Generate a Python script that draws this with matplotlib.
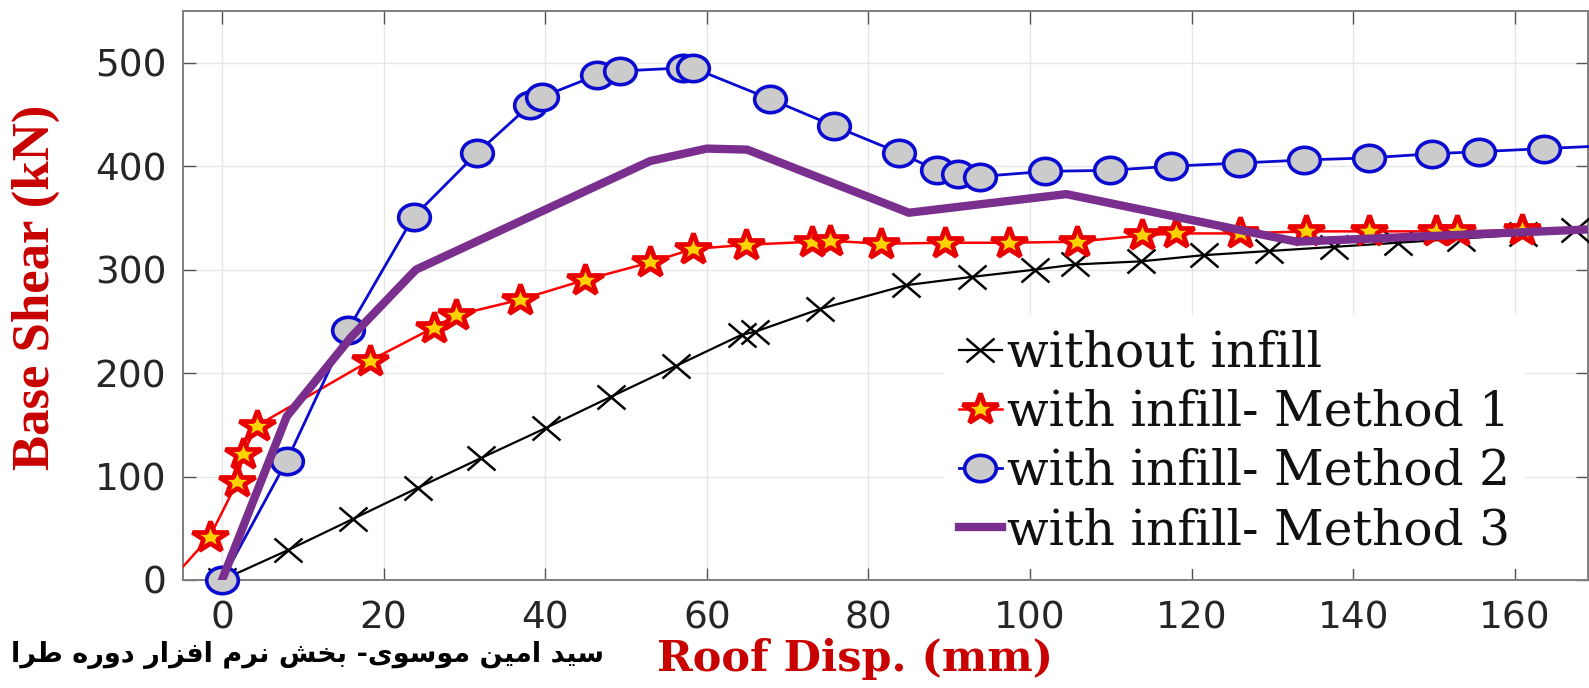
import matplotlib
matplotlib.use("Agg")
import matplotlib.pyplot as plt
from matplotlib.markers import MarkerStyle
from matplotlib.transforms import Affine2D

# ---------------- data ----------------
x_without = [0, 8.2, 16.2, 24.2, 32.1, 40.1, 48.1, 56.2, 64.3, 66, 74, 84.7, 92.8,
             100.6, 105.6, 113.7, 121.5, 129.6, 137.6, 145.5, 153.3, 161, 167.5]
y_without = [0, 29, 59, 89, 118, 147, 177, 207, 237, 240, 262, 285, 293,
             300, 305, 308, 314, 318, 322, 326, 330, 334, 338]

x_m1 = [-6.3, -1.5, 1.9, 2.6, 4.3, 18.3, 26.2, 29, 36.9, 44.9, 53, 58.3, 64.9, 73, 75.2,
        81.5, 89.5, 97.4, 105.8, 113.9, 118.1, 126, 134.1, 142, 150.2, 152.9, 160.9]
y_m1 = [0, 42, 95, 122, 149, 212, 244, 256, 271, 290, 307, 320, 324, 327, 328,
        325, 326, 326, 327, 333, 335, 335, 337, 337, 337, 337, 338]

x_m2 = [0, 8, 15.6, 23.7, 31.6, 38.1, 39.6, 46.4, 49.3, 57.1, 58.3, 67.8, 75.7, 83.8,
        88.5, 91.1, 93.8, 101.9, 109.9, 117.5, 125.9, 133.9, 141.9, 149.8, 155.6, 163.6, 172]
y_m2 = [0, 115, 242, 351, 413, 459, 467, 488, 492, 495, 495, 465, 439, 413,
        396, 392, 390, 395, 396, 400, 403, 406, 408, 412, 414, 417, 420]

x_m3 = [0, 8, 16, 24, 53, 60, 65, 85, 104.5, 133, 169.5]
y_m3 = [0, 158, 235, 300, 405, 417, 416, 355, 373, 327, 339]

labels = ["without infill", "with infill- Method 1", "with infill- Method 2", "with infill- Method 3"]
x_ticks = [0, 20, 40, 60, 80, 100, 120, 140, 160]
y_ticks = [0, 100, 200, 300, 400, 500]
x_label = "Roof Disp. (mm)"
y_label = "Base Shear (kN)"
footer = "سید امین موسوی- بخش نرم افزار دوره طرا"

# ---------------- simple Arabic/Persian shaping ----------------
FORMS = {  # isolated, final, initial, medial
    '\u0627': ('\uFE8D', '\uFE8E', None, None),
    '\u0628': ('\uFE8F', '\uFE90', '\uFE91', '\uFE92'),
    '\u062D': ('\uFEA1', '\uFEA2', '\uFEA3', '\uFEA4'),
    '\u062E': ('\uFEA5', '\uFEA6', '\uFEA7', '\uFEA8'),
    '\u062F': ('\uFEA9', '\uFEAA', None, None),
    '\u0631': ('\uFEAD', '\uFEAE', None, None),
    '\u0632': ('\uFEAF', '\uFEB0', None, None),
    '\u0633': ('\uFEB1', '\uFEB2', '\uFEB3', '\uFEB4'),
    '\u0634': ('\uFEB5', '\uFEB6', '\uFEB7', '\uFEB8'),
    '\u0637': ('\uFEC1', '\uFEC2', '\uFEC3', '\uFEC4'),
    '\u0641': ('\uFED1', '\uFED2', '\uFED3', '\uFED4'),
    '\u0645': ('\uFEE1', '\uFEE2', '\uFEE3', '\uFEE4'),
    '\u0646': ('\uFEE5', '\uFEE6', '\uFEE7', '\uFEE8'),
    '\u0647': ('\uFEE9', '\uFEEA', '\uFEEB', '\uFEEC'),
    '\u0648': ('\uFEED', '\uFEEE', None, None),
    '\u06CC': ('\uFBFC', '\uFBFD', '\uFBFE', '\uFBFF'),
    '\u064A': ('\uFEF1', '\uFEF2', '\uFEF3', '\uFEF4'),
}


def shape(text):
    out = []
    n = len(text)
    for i, ch in enumerate(text):
        if ch not in FORMS:
            out.append(ch)
            continue
        prev = text[i - 1] if i > 0 else ''
        nxt = text[i + 1] if i + 1 < n else ''
        joins_prev = prev in FORMS and FORMS[prev][2] is not None
        joins_next = nxt in FORMS and FORMS[ch][2] is not None
        iso, fin, ini, med = FORMS[ch]
        if joins_prev and joins_next:
            out.append(med)
        elif joins_prev:
            out.append(fin)
        elif joins_next:
            out.append(ini)
        else:
            out.append(iso)
    return ''.join(reversed(out))


# ---------------- figure ----------------
W, H = 1589, 688
fig = plt.figure(figsize=(W / 100, H / 100), dpi=100)
ax = fig.add_axes([183 / W, 1 - 580 / H, (1588 - 183) / W, (580 - 11) / H])

stretch = Affine2D().scale(1.2, 1.0)
m_x = MarkerStyle('x', transform=stretch)
m_star = MarkerStyle('*', transform=stretch)
m_circ = MarkerStyle('o', transform=stretch)

ax.plot(x_without, y_without, color='black', lw=1.6, marker=m_x, ms=17, mew=1.8,
        label=labels[0], zorder=3)
ax.plot(x_m1, y_m1, color='#ff0000', lw=1.8, marker=m_star, ms=23, mew=3.4,
        mec='#e80000', mfc='#ffd200', markevery=slice(1, None), label=labels[1], zorder=4)
ax.plot(x_m2, y_m2, color='#0a0ad0', lw=2.0, marker=m_circ, ms=19, mew=2.6,
        mec='#0a0ad0', mfc='#cbcbcb', label=labels[2], zorder=5, clip_on=False)
ax.plot(x_m3, y_m3, color='#7a2e8e', lw=6, solid_joinstyle='round', label=labels[3], zorder=6)

ax.set_xlim(-4.83, 169.06)
ax.set_ylim(0, 550)
ax.set_xticks(x_ticks)
ax.set_yticks(y_ticks)
ax.grid(True, color='#e6e6e6', lw=1.0)
ax.set_axisbelow(True)
ax.tick_params(direction='in', length=9, width=1, color='#555555',
               top=True, right=True, labelsize=27, labelcolor='#262626')
ax.tick_params(axis='x', pad=15)
ax.tick_params(axis='y', pad=12)
for s in ax.spines.values():
    s.set_color('#7f7f7f')
    s.set_linewidth(1.4)

fig.text(855 / W, 1 - 659 / H, x_label, ha='center', va='center', fontsize=31,
         family='DejaVu Serif', weight='bold', color='#c80000')
fig.text(36 / W, 1 - 287 / H, y_label, ha='center', va='center', rotation=90,
         fontsize=38, family='Liberation Serif', weight='bold', color='#c80000')

leg = ax.legend(loc='upper left', bbox_to_anchor=(944 / W, 1 - 315 / H),
                bbox_transform=fig.transFigure, prop=dict(family='DejaVu Serif', size=35),
                frameon=True, fancybox=False, framealpha=1, facecolor='white', edgecolor='none',
                handlelength=0.9, handletextpad=0.1, labelspacing=0.25, borderpad=0.3,
                borderaxespad=0)
leg.set_zorder(10)
for t in leg.get_texts():
    t.set_color('#111111')

fig.text(604 / W, 1 - 655 / H, shape(footer), ha='right', va='center', fontsize=19.5,
         family=['DejaVu Sans'], weight='bold', color='black')

fig.savefig('out.png', dpi=100)
